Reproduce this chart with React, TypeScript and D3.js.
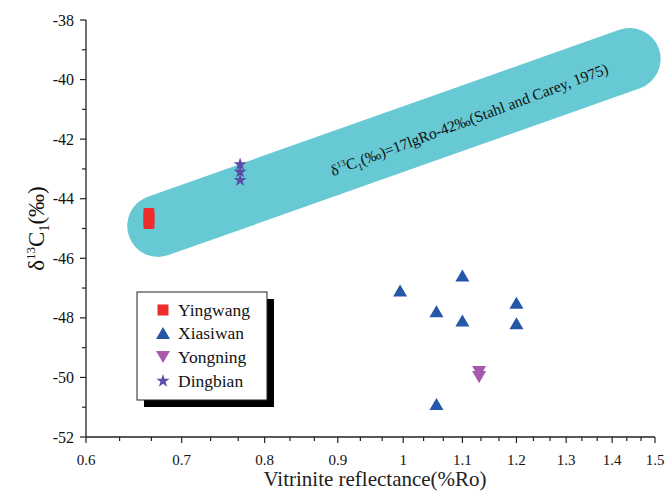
import React from "react";
import * as d3 from "d3";

const xTicks = [0.6, 0.7, 0.8, 0.9, 1, 1.1, 1.2, 1.3, 1.4, 1.5];
const xTickLabels = ["0.6", "0.7", "0.8", "0.9", "1", "1.1", "1.2", "1.3", "1.4", "1.5"];
const yTicks = [-52, -50, -48, -46, -44, -42, -40, -38];
const yTickLabels = ["-52", "-50", "-48", "-46", "-44", "-42", "-40", "-38"];

const yingwangRo = [0.664, 0.664, 0.664];
const yingwangD = [-44.5, -44.66, -44.83];
const xiasiwanRo = [0.995, 1.1, 1.055, 1.1, 1.2, 1.2, 1.055];
const xiasiwanD = [-47.08, -46.58, -47.78, -48.09, -47.49, -48.18, -50.89];
const yongningRo = [1.13, 1.13];
const yongningD = [-49.82, -49.99];
const dingbianRo = [0.769, 0.769, 0.769];
const dingbianD = [-42.85, -43.1, -43.38];

const bandRo = [0.674, 1.44];
const bandSlope = 17;
const bandIntercept = -42;

const legendNames = ["Yingwang", "Xiasiwan", "Yongning", "Dingbian"];

const RED = "#EE2C2C";
const BLUE = "#2457A8";
const PURPLE = "#A65AAE";
const STAR = "#5B4EA6";
const BAND = "#67C9D4";
const FONT = "Liberation Serif";

const triUp = (s: number) => {
  const h = s * 0.86;
  return `M0,${-h / 2}L${s / 2},${h / 2}L${-s / 2},${h / 2}Z`;
};
const triDown = (s: number) => {
  const h = s * 0.86;
  return `M0,${h / 2}L${s / 2},${-h / 2}L${-s / 2},${-h / 2}Z`;
};
const starPath = d3.symbol(d3.symbolStar, 55)() as string;

export default function App() {
  const x = d3.scaleLog().domain([0.6, 1.5]).range([86, 655]);
  const y = d3.scaleLinear().domain([-52, -38]).range([437, 20]);

  const xMinor: number[] = [];
  for (let i = 0; i < xTicks.length - 1; i++) {
    const a = xTicks[i], b = xTicks[i + 1];
    xMinor.push(a + (b - a) / 3, a + (2 * (b - a)) / 3);
  }
  const yMinor: number[] = [];
  for (let i = 0; i < yTicks.length - 1; i++) yMinor.push((yTicks[i] + yTicks[i + 1]) / 2);

  const bandPts = bandRo.map((r) => [x(r), y(bandSlope * Math.log10(r) + bandIntercept)]);
  const angle = (Math.atan2(bandPts[1][1] - bandPts[0][1], bandPts[1][0] - bandPts[0][0]) * 180) / Math.PI;
  const labelRo = 1.11;
  const lx = x(labelRo);
  const ly = y(bandSlope * Math.log10(labelRo) + bandIntercept);

  const legendRows = [310, 333, 357, 381];

  return (
    <svg width={667} height={491} style={{ position: "absolute", left: 0, top: 0 }}>
      <g fontFamily={FONT}>
        <rect width={667} height={491} fill="#fff" />
        <line
          x1={bandPts[0][0]}
          y1={bandPts[0][1]}
          x2={bandPts[1][0]}
          y2={bandPts[1][1]}
          stroke={BAND}
          strokeWidth={62}
          strokeLinecap="round"
        />
        <g transform={`translate(${lx},${ly}) rotate(${angle - 1})`}>
          <text x={0} y={9} textAnchor="middle" fontSize={15.5} fill="#111" fontFamily={FONT}>
            δ<tspan fontSize={9} dy={-6}>13</tspan>
            <tspan dy={6}>C</tspan>
            <tspan fontSize={10} dy={4}>1</tspan>
            <tspan dy={-4}>(‰)=17lgRo-42‰(Stahl and Carey, 1975)</tspan>
          </text>
        </g>

        <line x1={86} y1={y(-38)} x2={86} y2={y(-52)} stroke="#222" strokeWidth={1.3} />
        <line x1={86} y1={y(-52)} x2={x(1.5)} y2={y(-52)} stroke="#222" strokeWidth={1.3} />
        {xTicks.map((t, i) => (
          <line key={"xt" + i} x1={x(t)} x2={x(t)} y1={437} y2={443} stroke="#222" strokeWidth={1.2} />
        ))}
        {xTicks.map((t, i) => (
          <text key={"xl" + i} x={x(t)} y={465} textAnchor="middle" fontSize={15} fill="#111" fontFamily={FONT}>
            {xTickLabels[i]}
          </text>
        ))}
        {xMinor.map((t, i) => (
          <line key={"xm" + i} x1={x(t)} x2={x(t)} y1={437} y2={441} stroke="#222" strokeWidth={1.2} />
        ))}
        {yTicks.map((t, i) => (
          <line key={"yt" + i} x1={80} x2={86} y1={y(t)} y2={y(t)} stroke="#222" strokeWidth={1.2} />
        ))}
        {yTicks.map((t, i) => (
          <text key={"yl" + i} x={74} y={y(t) + 5.5} textAnchor="end" fontSize={16} fill="#111" fontFamily={FONT}>
            {yTickLabels[i]}
          </text>
        ))}
        {yMinor.map((t, i) => (
          <line key={"ym" + i} x1={82} x2={86} y1={y(t)} y2={y(t)} stroke="#222" strokeWidth={1.2} />
        ))}

        <text x={375} y={486} textAnchor="middle" fontSize={21} fill="#222" fontFamily={FONT}>
          Vitrinite reflectance(%Ro)
        </text>
        <g transform={`translate(44,${y(-45)}) rotate(-90)`}>
          <text x={0} y={0} textAnchor="middle" fontSize={23} fill="#111" fontFamily={FONT}>
            δ<tspan fontSize={13} dy={-9}>13</tspan>
            <tspan dy={9}>C</tspan>
            <tspan fontSize={14} dy={5}>1</tspan>
            <tspan dy={-5}>(‰)</tspan>
          </text>
        </g>

        {yingwangRo.map((r, i) => (
          <rect key={"yw" + i} x={x(r) - 5.5} y={y(yingwangD[i]) - 5.5} width={11} height={11} rx={1.5} fill={RED} />
        ))}
        {dingbianRo.map((r, i) => (
          <path key={"db" + i} d={starPath} transform={`translate(${x(r)},${y(dingbianD[i])})`} fill={STAR} />
        ))}
        {xiasiwanRo.map((r, i) => (
          <path key={"xs" + i} d={triUp(14)} transform={`translate(${x(r)},${y(xiasiwanD[i])})`} fill={BLUE} />
        ))}
        {yongningRo.map((r, i) => (
          <path key={"yn" + i} d={triDown(14)} transform={`translate(${x(r)},${y(yongningD[i])})`} fill={PURPLE} />
        ))}

        <rect x={144} y={299} width={130} height={108} fill="#000" />
        <rect x={137} y={292} width={130} height={108} fill="#fff" stroke="#222" strokeWidth={1} />
        {legendNames.map((n, i) => (
          <g key={"lg" + i} transform={`translate(163,${legendRows[i]})`}>
            {i === 0 && <rect x={-5.5} y={-5.5} width={11} height={11} fill={RED} />}
            {i === 1 && <path d={triUp(14)} fill={BLUE} />}
            {i === 2 && <path d={triDown(14)} fill={PURPLE} />}
            {i === 3 && <path d={starPath} fill={STAR} />}
            <text x={15} y={6} fontSize={17.5} fill="#111" fontFamily={FONT}>
              {n}
            </text>
          </g>
        ))}
      </g>
    </svg>
  );
}
